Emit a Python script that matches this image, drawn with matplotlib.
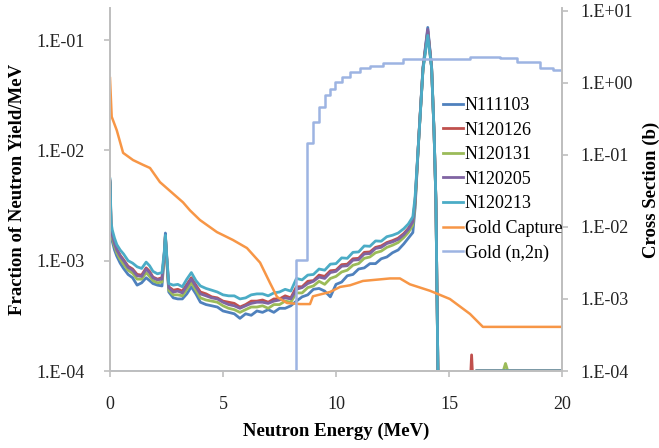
import numpy as np
from matplotlib import pyplot as plt
from matplotlib.ticker import FuncFormatter

# neutron energy grid (MeV) shared by the five measured spectra
energy = [
    0.0, 0.05, 0.1, 0.2, 0.3, 0.45, 0.6, 0.8, 1.0, 1.2, 1.4, 1.6, 1.75, 1.9, 2.1, 2.3,
    2.4, 2.45, 2.5, 2.6, 2.8, 3.0, 3.2, 3.4, 3.6, 3.8, 4.0, 4.25, 4.5, 4.75, 5.0, 5.25,
    5.5, 5.75, 6.0, 6.25, 6.5, 6.75, 7.0, 7.25, 7.5, 7.75, 8.0, 8.25, 8.5, 8.75, 9.0,
    9.25, 9.5, 9.75, 10.0, 10.25, 10.5, 10.75, 11.0, 11.25, 11.5, 11.75, 12.0, 12.25,
    12.5, 12.75, 13.0, 13.2, 13.4, 13.5, 13.67, 13.85, 14.06, 14.23, 14.34, 14.42,
    14.51, 14.6, 15.9, 16.0, 16.1, 16.2, 17.4, 17.5, 17.6, 20.0,
]

# fraction of neutron yield per MeV, in units of 1e-4
n111103 = [
    50, 17, 15, 12.5, 11, 9.5, 8.5, 7.5, 7.0, 6.0, 6.3, 7.0, 6.6, 6.2, 6.0, 5.9,
    11, 17.8, 11, 5.2, 4.6, 4.5, 4.5, 5.0, 5.8, 5.0, 4.2, 4.0, 3.9, 3.8, 3.5, 3.4,
    3.3, 3.0, 3.3, 3.2, 3.5, 3.4, 3.6, 3.4, 3.7, 3.7, 3.9, 4.3, 4.7, 4.9, 5.5,
    5.6, 5.3, 4.7, 6.1, 6.4, 7.3, 7.5, 8.4, 8.6, 9.4, 9.4, 10.4, 10.8,
    11.8, 12.5, 14.2, 16.0, 18.0, 30, 140, 570, 1300, 570, 144, 35,
    1.0, 0.5, 0.5, 0.5, 0.5, 1.0, 1.0, 1.0, 1.0, 1.0,
]
n120126 = [
    53, 20, 17.5, 14.5, 12.8, 11.2, 10.2, 8.9, 8.4, 7.5, 7.4, 8.6, 8.0, 7.1, 6.8, 7.0,
    11.5, 16.8, 11.5, 5.8, 5.4, 5.5, 5.3, 6.1, 7.0, 6.0, 5.2, 5.0, 4.7, 4.6, 4.3, 4.2,
    4.1, 3.8, 4.0, 4.3, 4.3, 4.4, 4.2, 4.5, 4.5, 4.8, 4.6, 5.8, 5.8, 6.5, 6.6,
    7.4, 7.2, 8.1, 8.2, 9.2, 9.3, 10.4, 10.5, 11.9, 12.0, 13.2, 13.6, 14.6,
    15.2, 16.0, 17.6, 19.6, 23, 35, 138, 550, 1200, 565, 145, 36,
    1.0, 0.5, 0.5, 1.4, 0.5, 1.0, 1.0, 1.0, 1.0, 1.0,
]
n120131 = [
    51, 18.5, 16, 13.5, 11.8, 10.3, 9.3, 8.2, 7.7, 6.8, 6.8, 7.8, 7.2, 6.6, 6.3, 6.4,
    11, 16.5, 11, 5.4, 4.9, 4.9, 4.8, 5.5, 6.3, 5.4, 4.6, 4.4, 4.3, 4.2, 3.9, 3.7,
    3.6, 3.4, 3.6, 3.8, 3.8, 3.9, 3.7, 4.0, 4.0, 4.3, 4.2, 5.1, 5.1, 5.7, 5.9,
    6.5, 6.1, 6.9, 7.2, 7.9, 8.2, 9.1, 9.4, 10.5, 10.8, 11.8, 12.2, 13.2,
    13.8, 14.6, 16.2, 18.0, 21, 32, 136, 550, 1180, 560, 143, 35,
    1.0, 0.5, 0.5, 0.5, 0.5, 1.0, 1.0, 1.17, 1.0, 1.0,
]
n120205 = [
    52, 19.5, 17, 14.2, 12.5, 11.0, 10.0, 8.7, 8.2, 7.3, 7.2, 8.4, 7.8, 7.0, 6.7, 6.8,
    11.5, 16.5, 11.5, 5.7, 5.2, 5.3, 5.1, 5.9, 6.8, 5.8, 5.0, 4.8, 4.6, 4.5, 4.2, 4.0,
    3.9, 3.7, 3.9, 4.1, 4.2, 4.2, 4.1, 4.3, 4.4, 4.6, 4.5, 5.5, 5.7, 6.2, 6.5,
    7.1, 6.9, 7.8, 8.0, 8.9, 9.0, 10.1, 10.2, 11.5, 11.6, 12.9, 13.2, 14.3,
    14.8, 15.6, 17.2, 19.2, 22.5, 34, 138, 555, 1250, 565, 144, 35,
    1.0, 0.5, 0.5, 0.5, 0.5, 1.0, 1.0, 1.0, 1.0, 1.0,
]
n120213 = [
    55, 22, 19, 16, 14, 12.5, 11.5, 10, 9.5, 8.8, 8.5, 9.7, 9.0, 8.0, 7.6, 7.8,
    12, 17, 12, 6.2, 6.0, 6.1, 5.8, 6.8, 7.8, 6.6, 5.9, 5.6, 5.4, 5.2, 4.9, 4.8,
    4.8, 4.5, 4.6, 4.9, 5.0, 5.0, 4.8, 5.1, 5.2, 5.5, 5.3, 6.9, 6.7, 7.4, 7.5,
    8.4, 8.2, 9.3, 9.4, 10.6, 10.5, 11.9, 12.0, 13.6, 13.5, 15.1, 15.0, 16.5,
    17.0, 17.8, 19.5, 21.5, 25, 38, 135, 540, 1100, 560, 145, 36,
    1.0, 0.5, 0.5, 0.5, 0.5, 1.0, 1.0, 1.0, 1.0, 1.0,
]
spectra_labels = ["N111103", "N120126", "N120131", "N120205", "N120213"]
spectra_colors = ["#4F81BD", "#C0504D", "#9BBB59", "#8064A2", "#4BACC6"]

# gold capture cross section (b)
capture_energy = [
    0.0, 0.075, 0.3, 0.58, 1.02, 1.46, 1.77, 2.21, 2.74, 3.23, 3.54, 3.98, 4.73, 5.44,
    6.06, 6.64, 7.08, 7.39, 7.83, 8.41, 8.85, 8.98, 9.73, 10.18, 10.62, 11.19, 12.39,
    12.83, 13.27, 14.16, 15.04, 15.93, 16.5, 20.0,
]
capture_xs = [
    1.17, 0.34, 0.22, 0.107, 0.085, 0.073, 0.066, 0.042, 0.030, 0.022, 0.017, 0.0125,
    0.0085, 0.0066, 0.0051, 0.0032, 0.00167, 0.00107, 8.8e-4, 8.5e-4, 8.5e-4, 1.09e-3,
    1.25e-3, 1.47e-3, 1.55e-3, 1.78e-3, 1.93e-3, 1.93e-3, 1.6e-3, 1.3e-3, 1.0e-3,
    6.2e-4, 4.1e-4, 4.1e-4,
]

# gold (n,2n) cross section (b), step data
n2n_energy = [
    0.0, 8.23, 8.72, 8.98, 9.25, 9.51, 9.73, 9.96, 10.27, 10.62, 11.06, 11.5, 12.08,
    12.96, 15.93, 17.26, 18.0, 19.03, 19.6, 20.0,
]
n2n_xs = [
    1e-4, 3.5e-3, 0.147, 0.29, 0.46, 0.68, 0.83, 1.03, 1.21, 1.42, 1.62, 1.72, 1.90,
    2.15, 2.30, 2.20, 1.96, 1.62, 1.52, 1.47,
]

SPINE = "#BFBFBF"


def _sci_label(value, pos):
    return "1.E{:+03d}".format(int(round(np.log10(value))))


def draw_chart():
    plt.rcParams["font.family"] = "serif"
    plt.rcParams["font.serif"] = ["Liberation Serif", "DejaVu Serif"]
    fig = plt.figure(figsize=(6.59, 4.48), dpi=100)
    ax = fig.add_axes([110 / 659, 1 - 371 / 448, 452 / 659, 363 / 448])
    ax2 = ax.twinx()

    e = np.array(energy)
    for values, label, color in zip(
            [n111103, n120126, n120131, n120205, n120213], spectra_labels, spectra_colors):
        ax.plot(e, np.array(values) * 1e-4, color=color, lw=2.0, label=label)

    ax2.plot(capture_energy, capture_xs, color="#F79646", lw=1.8, label="Gold Capture")
    ax2.plot(n2n_energy, n2n_xs, color="#9DB4E2", lw=1.8, drawstyle="steps-post",
             label="Gold (n,2n)")

    ax.set_xlim(0, 20)
    ax.set_xticks([0, 5, 10, 15, 20])
    ax.set_yscale("log")
    ax.set_ylim(1e-4, 0.195)
    ax.set_yticks([1e-4, 1e-3, 1e-2, 1e-1])
    ax2.set_yscale("log")
    ax2.set_ylim(1e-4, 11.0)
    ax2.set_yticks([1e-4, 1e-3, 1e-2, 1e-1, 1, 10])
    for a in (ax, ax2):
        a.yaxis.set_major_formatter(FuncFormatter(_sci_label))
        a.minorticks_off()
        a.tick_params(labelsize=13, length=4, width=1.2, colors="#222222")
        a.tick_params(color=SPINE)
        a.spines["top"].set_visible(False)
        for s in ("left", "right", "bottom"):
            a.spines[s].set_color(SPINE)
            a.spines[s].set_linewidth(1.3)
    ax.tick_params(axis="x", pad=14)
    ax.tick_params(axis="y", pad=14)
    ax2.tick_params(axis="y", pad=9)

    ax.set_xlabel("Neutron Energy (MeV)", fontsize=13.5, fontweight="bold", labelpad=7)
    ax.set_ylabel("Fraction of Neutron Yield/MeV", fontsize=13.5, fontweight="bold",
                  labelpad=8)
    ax2.set_ylabel("Cross Section (b)", fontsize=13.5, fontweight="bold", labelpad=7)

    handles = ax.get_legend_handles_labels()[0] + ax2.get_legend_handles_labels()[0]
    labels = ax.get_legend_handles_labels()[1] + ax2.get_legend_handles_labels()[1]
    ax2.legend(handles, labels, loc="upper left", bbox_to_anchor=(434 / 659, 1 - 88 / 448),
               bbox_transform=fig.transFigure, frameon=False, fontsize=13,
               handlelength=1.1, handletextpad=0.1, labelspacing=0.42, borderpad=0)

    fig.savefig("out.png", dpi=100)


draw_chart()
